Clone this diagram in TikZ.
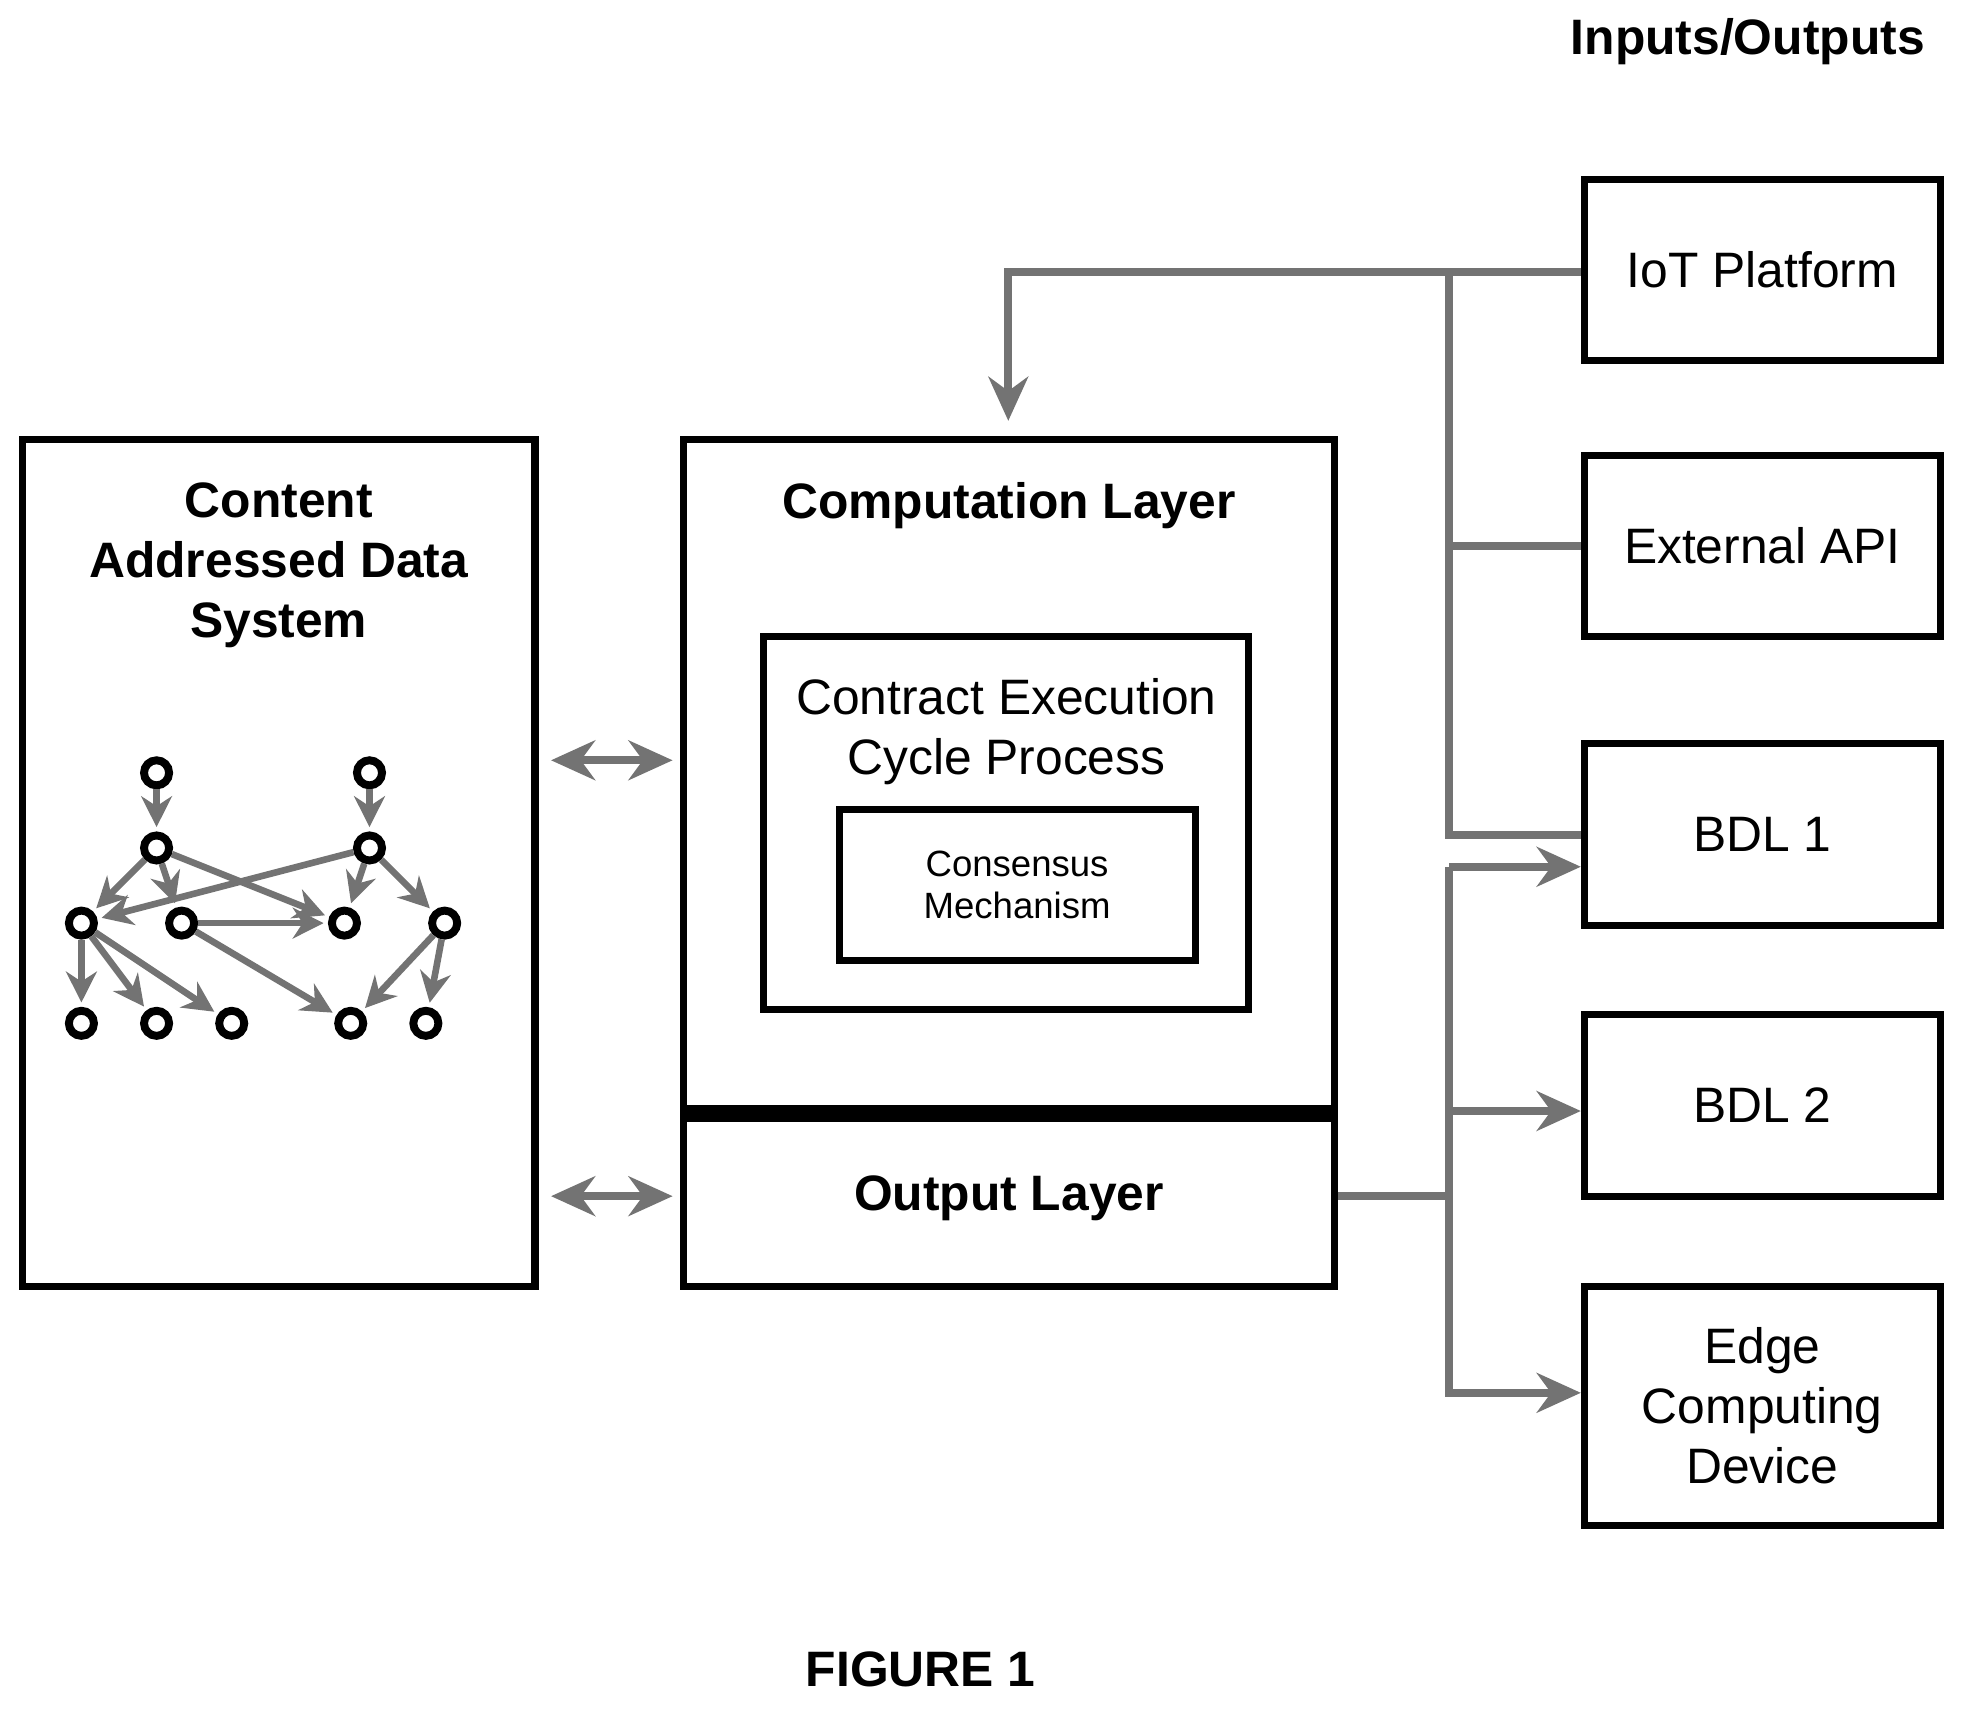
\documentclass[tikz,border=0pt]{standalone}
\usepackage{fontspec}
\setmainfont{Liberation Sans}
\usetikzlibrary{arrows.meta,positioning}
\definecolor{conn}{gray}{0.45}
\begin{document}
\begin{tikzpicture}[x=0.01cm,y=-0.01cm]
        \tikzset{block/.style={draw, line width=1.6pt, rectangle, align=center, inner sep=0pt},
        io/.style={block, minimum width=2.84cm, minimum height=1.45cm, font=\fontsize{11.3}{13.6}\selectfont},
        wire/.style={draw=conn, line width=1.8pt},
        arr/.style={wire, -{Stealth[length=10pt,width=9pt]}},
        darr/.style={wire, {Stealth[length=10pt,width=9pt]}-{Stealth[length=10pt,width=9pt]}},
        vert/.style={draw, circle, line width=1.8pt, minimum size=0.2cm, inner sep=0pt},
        garr/.style={draw=conn, line width=1.5pt, -{Stealth[length=7pt,width=7pt]}, shorten >=1pt},
        }
        \useasboundingbox (0,0) rectangle (1568,1364);
        \node [font=\bfseries\fontsize{11.3}{13.6}\selectfont, anchor=east] (title) at (1549,33) {Inputs/Outputs};
        % left block
        \node [block, minimum width=4.09cm, minimum height=6.76cm] (cads) at (222.5,689) {};
        \node [font=\bfseries\fontsize{11.3}{13.6}\selectfont, align=center, anchor=north] (cadst) at (222.5,373) {Content\\Addressed Data\\System};
        % middle blocks
        \node [block, minimum width=5.19cm, minimum height=5.35cm] (comp) at (805.5,618.5) {};
        \node [font=\bfseries\fontsize{11.3}{13.6}\selectfont, anchor=north] (compt) at (805.5,373) {Computation Layer};
        \node [block, minimum width=5.19cm, minimum height=1.41cm, font=\bfseries\fontsize{11.3}{13.6}\selectfont] (out) at (805.5,956.5) {Output Layer};
        \draw [line width=4pt] (comp.south west) -- (comp.south east);
        \node [block, minimum width=3.87cm, minimum height=2.98cm] (cec) at (803.5,657) {};
        \node [font=\fontsize{11.3}{13.6}\selectfont, align=center, anchor=north] (cect) at (803.5,529) {Contract Execution\\Cycle Process};
        \node [block, minimum width=2.84cm, minimum height=1.21cm, font=\fontsize{8.3}{9.6}\selectfont] (cons) at (812,706.5) {Consensus\\Mechanism};
        % right column
        \node [io] (iot) at (1407,215.5) {IoT Platform};
        \node [io] (api) at (1407,436) {External API};
        \node [io] (bdl1) at (1407,666.5) {BDL 1};
        \node [io] (bdl2) at (1407,882.5) {BDL 2};
        \node [io, minimum height=1.91cm] (edge) at (1407,1122.5) {Edge\\Computing\\Device};
        \node [font=\bfseries\fontsize{11.3}{13.6}\selectfont] (fig) at (735,1333) {FIGURE 1};

%% paths
        \coordinate (busin) at (1157,217);
        \coordinate (busout) at (1157,955);
        \draw [arr] (iot.west |- busin) -| (805,336);
        \draw [wire] (busin) |- (bdl1.west |- 0,667);
        \draw [wire] (1157,436) -- (api.west);
        \draw [wire] (out.east |- busout) -- (busout) -- (1157,692);
        \draw [arr] (1157,692) -- (bdl1.west |- 0,692);
        \draw [arr] (1157,887) -- (bdl2.west |- 0,887);
        \draw [arr] (busout) |- (edge.west |- 0,1112);
        \draw [darr] (cads.east |- 0,607) ++(10,0) -- (537,607);
        \draw [darr] (cads.east |- 0,955) ++(10,0) -- (537,955);

%% graph
        \foreach \n/\x/\y in {a1/125/617, a2/295/617, b1/125/677, b2/295/677,
            c1/65/737, c2/145/737, c3/275/737, c4/355/737,
            d1/65/817, d2/125/817, d3/185/817, d4/280/817, d5/340/817}
            \node [vert] (\n) at (\x,\y) {};
        \foreach \s/\t in {a1/b1, a2/b2, b1/c1, b1/c2, b1/c3, b2/c1, b2/c3, b2/c4,
            c2/c3, c1/d1, c1/d2, c1/d3, c2/d4, c4/d4, c4/d5}
            \draw [garr] (\s) -- (\t);
\end{tikzpicture}
\end{document}
